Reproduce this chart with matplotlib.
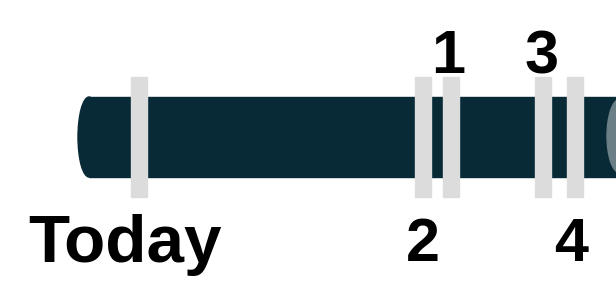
import matplotlib
matplotlib.use("Agg")
import matplotlib.pyplot as plt
from matplotlib.patches import Rectangle, Ellipse

# Data
labels = ["Today", "2", "1", "3", "4"]
marker_pos = [139, 423, 451, 543, 575]
label_side = ["below", "below", "above", "above", "below"]
label_pos = [30, 423, 448, 542, 571]

W, H = 616, 285
fig = plt.figure(figsize=(W / 100, H / 100), dpi=100)
ax = fig.add_axes([0, 0, 1, 1])
ax.set_xlim(0, W)
ax.set_ylim(H, 0)
ax.axis("off")

dark = "#072a36"
# main bar
ax.add_patch(Ellipse((89, 137), 22, 80, color=dark, zorder=1))
ax.add_patch(Rectangle((89, 97), W - 89 + 10, 80, color=dark, zorder=1))
# right end cap
ax.add_patch(Ellipse((620, 136), 26, 74, color="#6a7f86", zorder=2))

# markers
for x in marker_pos:
    ax.add_patch(Rectangle((x - 8, 77), 16, 120, color="#dcdcdc", zorder=3))

font = dict(family=["Liberation Sans", "DejaVu Sans"], weight="bold", color="black")
for lab, x, side in zip(labels, label_pos, label_side):
    if lab == "Today":
        ax.text(x - 2, 262, lab, ha="left", va="baseline", fontsize=48.5, **font)
    elif side == "above":
        ax.text(x, 73, lab, ha="center", va="baseline", fontsize=44, **font)
    else:
        ax.text(x, 261, lab, ha="center", va="baseline", fontsize=44, **font)

fig.savefig("out.png", dpi=100)
